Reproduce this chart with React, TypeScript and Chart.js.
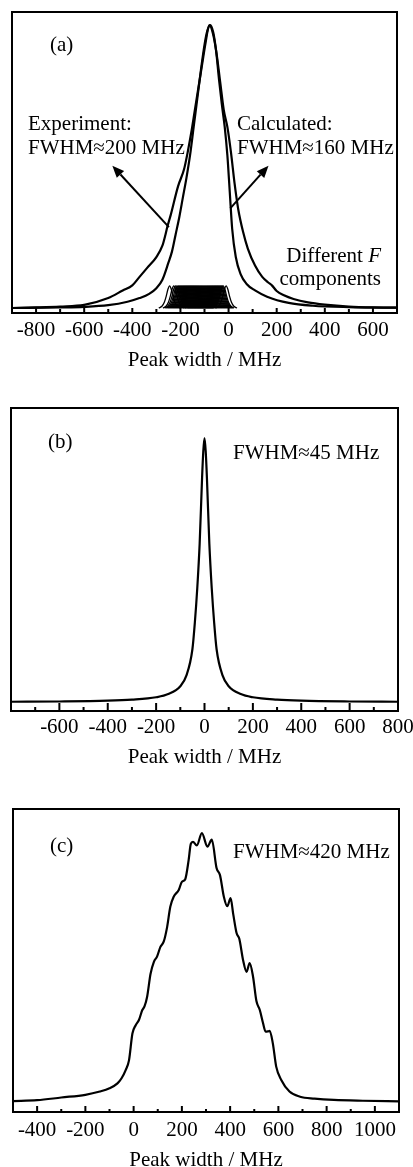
import React, { useEffect, useRef } from "react";
import { Chart, registerables } from "chart.js";
Chart.register(...registerables);

const SERIF = "'Liberation Serif', 'Times New Roman', Times, serif";
const X_TITLE = "Peak width / MHz";

// ---------- Panel (a) ----------
const A_EXP_X = [-900, -800, -700, -600, -500, -440, -400, -370, -340, -300, -275, -262, -255, -240, -210, -185, -170, -155, -140, -125, -110, -95, -80, -65, -50, -35, -20, -5, 10, 25, 40, 60, 80, 110, 140, 165, 180, 200, 230, 270, 330, 400, 500, 600, 700];
const A_EXP_Y = [0.0, 0.002, 0.005, 0.011, 0.035, 0.062, 0.08, 0.11, 0.14, 0.18, 0.22, 0.26, 0.285, 0.33, 0.43, 0.49, 0.55, 0.62, 0.7, 0.78, 0.86, 0.94, 1.0, 0.97, 0.9, 0.8, 0.7, 0.64, 0.55, 0.44, 0.35, 0.27, 0.21, 0.15, 0.11, 0.09, 0.08, 0.06, 0.045, 0.032, 0.02, 0.012, 0.005, 0.002, 0.001];
const A_CALC_X = [-900, -700, -600, -500, -420, -370, -330, -300, -275, -250, -235, -220, -205, -190, -175, -160, -145, -130, -115, -100, -88, -76, -64, -52, -40, -28, -16, -5, 5, 15, 30, 50, 75, 110, 160, 250, 350, 500, 700];
const A_CALC_Y = [0, 0.002, 0.004, 0.01, 0.022, 0.035, 0.05, 0.07, 0.1, 0.16, 0.2, 0.26, 0.32, 0.39, 0.46, 0.54, 0.64, 0.74, 0.84, 0.93, 0.98, 1.0, 0.975, 0.91, 0.81, 0.72, 0.64, 0.54, 0.41, 0.28, 0.18, 0.12, 0.085, 0.062, 0.04, 0.018, 0.008, 0.003, 0.001];
const A_F_CENTERS = [-245, -228, -221, -215, -210, -206, -202, -198, -194, -190, -186, -182, -178, -174, -170, -166, -162, -158, -154, -150, -146, -142, -138, -134, -130, -126, -122, -118, -114, -110, -106, -102, -98, -94, -90, -86, -82, -78, -74, -70, -66, -62, -58, -54, -50, -46, -42, -38, -34, -30, -26, -22, -10];
const A_F_PROFILE_DX = [-45, -32, -22, -14, -7, 0, 7, 14, 22, 32, 45];
const A_F_PROFILE_Y = [0, 0.006, 0.02, 0.042, 0.066, 0.078, 0.066, 0.042, 0.02, 0.006, 0];
const A_TICKS = [-800, -600, -400, -200, 0, 200, 400, 600];
const A_MINOR = [-700, -500, -300, -100, 100, 300, 500];

// ---------- Panel (b) ----------
const B_X = [-800, -600, -400, -300, -200, -150, -100, -75, -50, -40, -30, -20, -10, -5, 0, 5, 10, 20, 30, 40, 50, 75, 100, 150, 200, 300, 400, 600, 800];
const B_Y = [0.001, 0.002, 0.005, 0.009, 0.018, 0.03, 0.06, 0.1, 0.2, 0.3, 0.43, 0.6, 0.85, 0.95, 1, 0.95, 0.85, 0.6, 0.43, 0.3, 0.2, 0.1, 0.06, 0.03, 0.018, 0.009, 0.005, 0.002, 0.001];
const B_TICKS = [-600, -400, -200, 0, 200, 400, 600, 800];
const B_MINOR = [-700, -500, -300, -100, 100, 300, 500, 700];

// ---------- Panel (c) ----------
const C_X = [-500, -400, -300, -200, -140, -100, -67, -50, -33, -19, -5, 8, 22, 36, 45, 56, 70, 84, 97, 111, 125, 139, 152, 166, 187, 200, 214, 228, 237, 246, 262, 283, 306, 324, 344, 358, 374, 388, 402, 413, 427, 438, 454, 468, 481, 495, 509, 523, 536, 547, 556, 564, 577, 591, 612, 646, 690, 750, 830, 950, 1100];
const C_Y = [0.011, 0.014, 0.024, 0.034, 0.046, 0.058, 0.076, 0.095, 0.125, 0.162, 0.26, 0.29, 0.31, 0.347, 0.36, 0.396, 0.48, 0.525, 0.544, 0.58, 0.6, 0.654, 0.728, 0.765, 0.79, 0.82, 0.83, 0.9, 0.96, 0.968, 0.955, 1.0, 0.95, 0.976, 0.87, 0.845, 0.765, 0.73, 0.76, 0.7, 0.63, 0.61, 0.53, 0.488, 0.52, 0.47, 0.38, 0.347, 0.3, 0.267, 0.268, 0.27, 0.224, 0.138, 0.089, 0.046, 0.027, 0.02, 0.015, 0.012, 0.01];
const C_TICKS = [-400, -200, 0, 200, 400, 600, 800, 1000];
const C_MINOR = [-300, -100, 100, 300, 500, 700, 900];

type Pt = { x: number; y: number };
const pts = (xs: number[], ys: number[]): Pt[] => xs.map((x, i) => ({ x, y: ys[i] }));

const lineDs = (data: Pt[], width: number) => ({
  data,
  showLine: true,
  borderColor: "#000",
  borderWidth: width,
  pointRadius: 0,
  cubicInterpolationMode: "monotone",
  fill: false,
});

type TextItem = { text: string; x: number; y: number; align?: "left" | "right"; italicTail?: string };
type Arrow = { from: [number, number]; to: [number, number] };

type Spec = {
  top: number;
  height: number;
  xmin: number;
  xmax: number;
  ymin: number;
  ymax: number;
  pad: { left: number; right: number; top: number };
  tickPad: number;
  titlePad: { top: number; bottom: number };
  ticks: number[];
  minor: number[];
  majorLen: number;
  minorLen: number;
  datasets: any[];
  texts: TextItem[];
  arrows: Arrow[];
};

const SPECS: Spec[] = [
  {
    top: 0,
    height: 380,
    xmin: -900,
    xmax: 700,
    ymin: -0.0177,
    ymax: 1.046,
    pad: { left: 12, right: 33, top: 12 },
    tickPad: 5,
    titlePad: { top: 1, bottom: 8 },
    ticks: A_TICKS,
    minor: A_MINOR,
    majorLen: 5,
    minorLen: 4,
    datasets: [
      ...A_F_CENTERS.map((c) =>
        lineDs(pts(A_F_PROFILE_DX.map((d) => c + d), A_F_PROFILE_Y), 1.3)
      ),
      lineDs(pts(A_CALC_X, A_CALC_Y), 2.2),
      lineDs(pts(A_EXP_X, A_EXP_Y), 2.2),
    ],
    texts: [
      { text: "(a)", x: 50, y: 51 },
      { text: "Experiment:", x: 28, y: 130 },
      { text: "FWHM\u2248200 MHz", x: 28, y: 154 },
      { text: "Calculated:", x: 237, y: 130 },
      { text: "FWHM\u2248160 MHz", x: 237, y: 154 },
      { text: "Different ", x: 381, y: 262, align: "right", italicTail: "F" },
      { text: "components", x: 381, y: 285, align: "right" },
    ],
    arrows: [
      { from: [-248, 0.286], to: [-483, 0.503] },
      { from: [7, 0.352], to: [166, 0.503] },
    ],
  },
  {
    top: 380,
    height: 400,
    xmin: -800,
    xmax: 800,
    ymin: -0.034,
    ymax: 1.114,
    pad: { left: 11, right: 32, top: 28 },
    tickPad: 4,
    titlePad: { top: 2, bottom: 11 },
    ticks: B_TICKS,
    minor: B_MINOR,
    majorLen: 8,
    minorLen: 4,
    datasets: [lineDs(pts(B_X, B_Y), 2.2)],
    texts: [
      { text: "(b)", x: 48, y: 68 },
      { text: "FWHM\u224845 MHz", x: 233, y: 79 },
    ],
    arrows: [],
  },
  {
    top: 780,
    height: 400,
    xmin: -500,
    xmax: 1100,
    ymin: -0.0295,
    ymax: 1.089,
    pad: { left: 13, right: 31, top: 29 },
    tickPad: 6,
    titlePad: { top: 0, bottom: 8 },
    ticks: C_TICKS,
    minor: C_MINOR,
    majorLen: 6,
    minorLen: 3,
    datasets: [lineDs(pts(C_X, C_Y), 2.2)],
    texts: [
      { text: "(c)", x: 50, y: 72 },
      { text: "FWHM\u2248420 MHz", x: 233, y: 78 },
    ],
    arrows: [],
  },
];

const CANVAS_W = 430;

function decorPlugin(spec: Spec) {
  return {
    id: "decor",
    afterDatasetsDraw(chart: any) {
      const { ctx, chartArea: a, scales } = chart;
      const xs = scales.x;
      const ys = scales.y;
      ctx.save();
      ctx.strokeStyle = "#000";
      ctx.fillStyle = "#000";
      // ticks (inward)
      ctx.lineWidth = 2;
      ctx.beginPath();
      for (const v of spec.ticks) {
        const px = xs.getPixelForValue(v);
        ctx.moveTo(px, a.bottom);
        ctx.lineTo(px, a.bottom - spec.majorLen);
      }
      for (const v of spec.minor) {
        const px = xs.getPixelForValue(v);
        ctx.moveTo(px, a.bottom);
        ctx.lineTo(px, a.bottom - spec.minorLen);
      }
      ctx.stroke();
      // frame
      ctx.lineWidth = 2;
      ctx.strokeRect(a.left, a.top, a.right - a.left, a.bottom - a.top);
      // arrows
      for (const ar of spec.arrows) {
        const x1 = xs.getPixelForValue(ar.from[0]);
        const y1 = ys.getPixelForValue(ar.from[1]);
        const x2 = xs.getPixelForValue(ar.to[0]);
        const y2 = ys.getPixelForValue(ar.to[1]);
        const ang = Math.atan2(y2 - y1, x2 - x1);
        const hl = 12;
        const hw = 5;
        const bx = x2 - hl * Math.cos(ang);
        const by = y2 - hl * Math.sin(ang);
        ctx.lineWidth = 2;
        ctx.beginPath();
        ctx.moveTo(x1, y1);
        ctx.lineTo(bx, by);
        ctx.stroke();
        ctx.beginPath();
        ctx.moveTo(x2, y2);
        ctx.lineTo(bx + hw * Math.sin(ang), by - hw * Math.cos(ang));
        ctx.lineTo(bx - hw * Math.sin(ang), by + hw * Math.cos(ang));
        ctx.closePath();
        ctx.fill();
      }
      // texts
      ctx.textBaseline = "alphabetic";
      for (const t of spec.texts) {
        ctx.font = `21px ${SERIF}`;
        if (t.italicTail) {
          ctx.font = `italic 21px ${SERIF}`;
          const wi = ctx.measureText(t.italicTail).width;
          ctx.textAlign = "left";
          ctx.fillText(t.italicTail, t.x - wi, t.y);
          ctx.font = `21px ${SERIF}`;
          ctx.textAlign = "right";
          ctx.fillText(t.text, t.x - wi, t.y);
        } else {
          ctx.textAlign = t.align || "left";
          ctx.fillText(t.text, t.x, t.y);
        }
      }
      ctx.restore();
    },
  };
}

function Panel({ spec }: { spec: Spec }) {
  const ref = useRef<HTMLCanvasElement | null>(null);
  useEffect(() => {
    if (!ref.current) return;
    const font = { family: SERIF, size: 21, lineHeight: "24px" };
    const chart = new Chart(ref.current, {
      type: "scatter",
      data: { datasets: spec.datasets },
      options: {
        animation: false,
        responsive: false,
        maintainAspectRatio: false,
        events: [],
        layout: { padding: { left: spec.pad.left, right: spec.pad.right, top: spec.pad.top, bottom: 0 } },
        plugins: { legend: { display: false }, tooltip: { enabled: false } },
        scales: {
          x: {
            type: "linear",
            min: spec.xmin,
            max: spec.xmax,
            afterBuildTicks: (s: any) => {
              s.ticks = spec.ticks.map((v) => ({ value: v }));
            },
            ticks: {
              font,
              color: "#000",
              padding: spec.tickPad,
              autoSkip: false,
              maxRotation: 0,
              minRotation: 0,
              callback: (v: any) => String(v),
            },
            grid: { display: false, drawTicks: false },
            border: { display: false },
            title: {
              display: true,
              text: X_TITLE,
              font,
              color: "#000",
              padding: spec.titlePad,
            },
          },
          y: { type: "linear", min: spec.ymin, max: spec.ymax, display: false },
        },
      } as any,
      plugins: [decorPlugin(spec)],
    });
    return () => chart.destroy();
  }, [spec]);
  return (
    <canvas
      ref={ref}
      width={CANVAS_W}
      height={spec.height}
      style={{ position: "absolute", left: 0, top: spec.top, width: CANVAS_W, height: spec.height }}
    />
  );
}

export default function App() {
  return (
    <div
      style={{
        position: "absolute",
        left: 0,
        top: 0,
        width: 413,
        height: 1167,
        overflow: "hidden",
        background: "#fff",
      }}
    >
      {SPECS.map((s, i) => (
        <Panel key={i} spec={s} />
      ))}
    </div>
  );
}
